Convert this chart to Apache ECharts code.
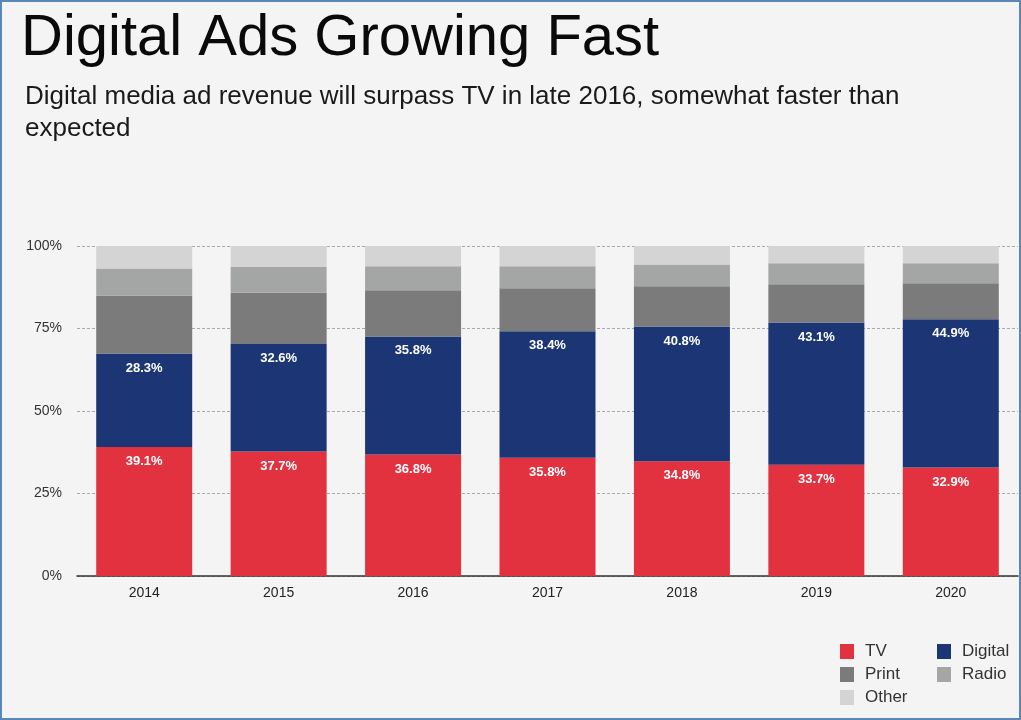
<!DOCTYPE html>
<html>
<head>
<meta charset="utf-8">
<title>Digital Ads Growing Fast</title>
<script src="https://cdn.jsdelivr.net/npm/echarts@6/dist/echarts.min.js"></script>
<style>
  html, body { margin: 0; padding: 0; background: #f4f4f4; }
  #chart { width: 1021px; height: 720px; box-sizing: border-box; border: 2px solid #5a87b3; }
</style>
</head>
<body>
<div id="chart"></div>
<script>
// Share of ad revenue by medium, percent
const years = ['2014', '2015', '2016', '2017', '2018', '2019', '2020'];
const tv      = [39.1, 37.7, 36.8, 35.8, 34.8, 33.7, 32.9];
const digital = [28.3, 32.6, 35.8, 38.4, 40.8, 43.1, 44.9];
const print   = [17.5, 15.5, 14.0, 13.0, 12.2, 11.6, 10.9];
const radio   = [8.3, 7.8, 7.3, 6.7, 6.6, 6.4, 6.1];
const other   = [6.8, 6.4, 6.1, 6.1, 5.6, 5.2, 5.2];
const yTicks  = [0, 25, 50, 75, 100];

const FONT = '"Liberation Sans", Arial, Helvetica, sans-serif';

const chart = echarts.init(document.getElementById('chart'), null, { renderer: 'canvas' });

function barSeries(name, data, color, labelled) {
  return {
    name: name,
    type: 'bar',
    stack: 'share',
    data: data,
    barWidth: 96,
    itemStyle: { color: color },
    label: {
      show: labelled,
      position: 'insideTop',
      distance: 8,
      color: '#ffffff',
      fontFamily: FONT,
      fontSize: 13,
      fontWeight: 'bold',
      formatter: p => p.value.toFixed(1) + '%'
    },
    emphasis: { disabled: true }
  };
}

const legendBase = {
  orient: 'vertical',
  top: 641,
  padding: 0,
  itemWidth: 14, itemHeight: 15, itemGap: 6,
  icon: 'rect',
  textStyle: { color: '#333333', fontFamily: FONT, fontSize: 17, padding: [0, 0, 0, 6] },
  selectedMode: false
};

chart.setOption({
  backgroundColor: '#f4f4f4',
  animation: false,
  title: [
    {
      text: 'Digital Ads Growing Fast',
      left: 19, top: 8, padding: 0,
      textStyle: { fontFamily: FONT, fontSize: 58, fontWeight: 'normal', color: '#0a0a0a' }
    },
    {
      text: 'Digital media ad revenue will surpass TV in late 2016, somewhat faster than\nexpected',
      left: 23, top: 79, padding: 0,
      textStyle: { fontFamily: FONT, fontSize: 26, fontWeight: 'normal', color: '#1a1a1a', lineHeight: 32 }
    }
  ],
  legend: [
    Object.assign({ data: ['TV', 'Print', 'Other'], left: 838 }, legendBase),
    Object.assign({ data: ['Digital', 'Radio'], left: 935 }, legendBase)
  ],
  grid: { left: 75, right: 1, top: 244, bottom: 142, containLabel: false },
  xAxis: {
    type: 'category',
    data: years,
    axisLine: { show: true, lineStyle: { color: '#333333', width: 1.5 } },
    axisTick: { show: false },
    axisLabel: { color: '#222222', fontFamily: FONT, fontSize: 14, margin: 10 }
  },
  yAxis: {
    type: 'value',
    min: yTicks[0],
    max: yTicks[yTicks.length - 1],
    interval: yTicks[1] - yTicks[0],
    axisLine: { show: false },
    axisTick: { show: false },
    axisLabel: { color: '#333333', fontFamily: FONT, fontSize: 14, margin: 15, formatter: '{value}%' },
    splitLine: { show: true, lineStyle: { color: '#a8a8a8', type: [3, 2], width: 1 } }
  },
  series: [
    barSeries('TV', tv, '#e2323f', true),
    barSeries('Digital', digital, '#1b3575', true),
    barSeries('Print', print, '#7b7b7b', false),
    barSeries('Radio', radio, '#a4a5a5', false),
    barSeries('Other', other, '#d4d4d4', false)
  ]
});
</script>
</body>
</html>
